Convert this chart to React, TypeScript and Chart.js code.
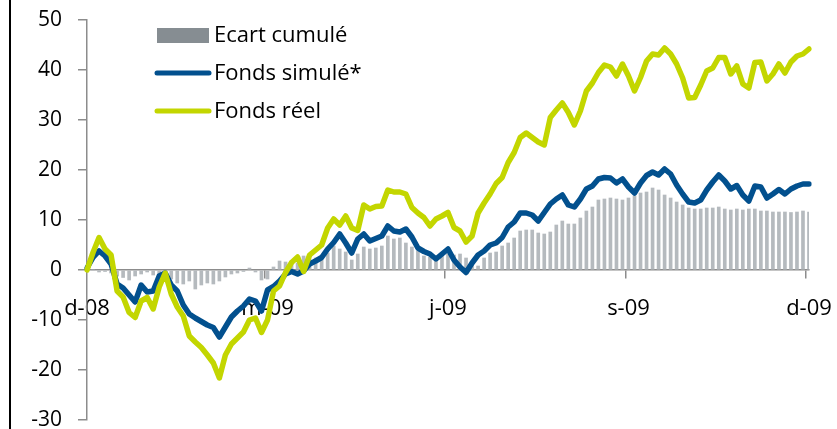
import React, { useEffect, useRef } from "react";
import { Chart, registerables } from "chart.js";

Chart.register(...registerables);

const TICK_LABELS = ["d-08", "m-09", "j-09", "s-09", "d-09"];
const TICK_STEP = 30;

const FONDS_REEL = [
  0, 3.5, 6.5, 4.2, 3.0, -4.2, -5.4, -8.5, -9.5, -6.2,
  -5.5, -7.8, -3.4, -0.6, -4.8, -7.4, -9.2, -13.2, -14.4, -15.5,
  -17, -18.6, -21.6, -17, -14.8, -13.6, -12.4, -10, -9.6, -12.5,
  -10, -4.2, -3.2, -0.5, 1.5, 2.6, -0.3, 3.0, 4.0, 5.0,
  8.4, 10.2, 9.0, 10.8, 8.4, 7.9, 13, 12.2, 12.7, 12.8,
  16, 15.6, 15.6, 15.2, 12.5, 11.4, 10.5, 8.8, 10.2, 10.8,
  11.5, 8.5, 7.8, 5.6, 6.8, 11.4, 13.4, 15.2, 17.3, 18.5,
  21.5, 23.5, 26.5, 27.4, 26.5, 25.6, 25, 30.5, 32, 33.4,
  31.5, 29, 31.8, 35.8, 37.4, 39.5, 41, 40.6, 38.8, 41.2,
  38.8, 35.8, 38.5, 41.8, 43.2, 43, 44.4, 43.2, 41.2, 38.4,
  34.4, 34.5, 37, 39.8, 40.4, 42.5, 42.5, 39.2, 40.8, 37.2,
  36.4, 41.5, 41.6, 37.8, 39.2, 41.2, 39.4, 41.6, 42.8, 43.2,
  44.2,
];

const FONDS_SIMULE = [
  0.4, 2.5, 3.8, 2.8, 1.2, -2.8, -3.6, -5, -6.4, -3,
  -4.4, -4.2, -1.2, -0.6, -3, -4.2, -7, -8.8, -9.6, -10.3,
  -11, -11.5, -13.4, -11.4, -9.4, -8.2, -7.2, -5.8, -6.2, -8.2,
  -4, -3.3, -2.2, -0.8, -0.3, -0.8, -0.2, 1.2, 1.8, 2.5,
  4.2, 5.5, 7.2, 5.4, 3.4, 6.2, 7.2, 5.8, 6.3, 6.8,
  8.8, 7.8, 7.6, 8.2, 6.6, 4.4, 3.7, 3.2, 2.2, 3.2,
  4.2, 2, 0.6, -0.5, 1.4, 3, 3.8, 5, 5.4, 6.5,
  8.6, 9.6, 11.4, 11.4, 11, 9.8, 11.5, 13.2, 14.2, 15,
  13, 12.6, 14.2, 16.2, 16.8, 18.2, 18.5, 18.4, 17.4, 18.2,
  16.6, 15.4, 17.4, 18.9, 19.6, 19, 20.2, 19.2, 17, 15.2,
  13.6, 13.4, 14, 16, 17.6, 19, 17.8, 16.2, 16.9, 15,
  13.8, 16.8, 16.6, 14.4, 15.2, 16.1, 15.2, 16.2, 16.8, 17.2,
  17.2,
];

const ECART_CUMULE = [
  0, 0, -0.4, -0.3, -0.6, -1.2, -1.5, -2, -1.2, -0.8,
  -0.4, -1, -0.8, -0.4, -1.8, -2.6, -2.8, -2.2, -3.8, -3,
  -2.6, -2.8, -2.2, -1.4, -0.8, -0.6, -0.3, 0.4, -0.4, -2,
  -1.8, 0.6, 1.8, 1.6, 1.8, 1.4, 2.8, 2.2, 2.4, 2.0,
  3.4, 4.8, 4.2, 3.6, 2, 3.2, 4.6, 4.2, 4.4, 4.8,
  6.8, 6.2, 6.4, 5.4, 4.6, 3.8, 2.8, 2.6, 2.8, 3.0,
  3.2, 3.0, 3.2, 2.4, 1.6, 0.8, 2.4, 3.4, 3.6, 4.8,
  5.4, 6.4, 7.8, 8, 8, 7.4, 7.2, 7.6, 9, 9.8,
  9.2, 9.2, 10.4, 11.8, 12.6, 14, 14.2, 14.4, 14.2, 14,
  14.4, 14.8, 15.4, 15.6, 16.4, 16, 15, 14.4, 13.6, 13,
  12.4, 12.2, 12.2, 12.4, 12.4, 12.6, 12.2, 12, 12.2, 12,
  12.2, 12.2, 11.8, 11.8, 11.6, 11.6, 11.6, 11.5, 11.6, 11.8,
  11.6,
];

const CATEGORIES = FONDS_REEL.map((_, i) =>
  i % TICK_STEP === 0 ? TICK_LABELS[i / TICK_STEP] ?? "" : ""
);

const BLUE = "#02508e";
const GREEN = "#c3d600";
const BAR_GREY = "#b5babe";
const LEGEND_GREY = "#868d92";
const AXIS_GREY = "#8c8c8c";
const FONT = "'Open Sans', sans-serif";

const frameAndLegend = {
  id: "frameAndLegend",
  afterDraw(chart: any) {
    const ctx = chart.ctx;
    ctx.save();
    ctx.fillStyle = "#000";
    ctx.fillRect(9, 0, 2, chart.height);
    const ds = chart.data.datasets;
    const x0 = 157;
    const x1 = 209;
    const rows = [35, 73, 111];
    ctx.font = `22px ${FONT}`;
    ctx.textBaseline = "middle";
    ctx.textAlign = "left";
    ds.forEach((d: any, i: number) => {
      const y = rows[i];
      if (d.type === "bar") {
        ctx.fillStyle = LEGEND_GREY;
        ctx.fillRect(x0, y - 7, x1 - x0, 15);
      } else {
        ctx.strokeStyle = d.borderColor;
        ctx.lineWidth = 5;
        ctx.lineCap = "round";
        ctx.beginPath();
        ctx.moveTo(x0, y);
        ctx.lineTo(x1, y);
        ctx.stroke();
      }
      ctx.fillStyle = "#000";
      ctx.fillText(d.label, 214, y + 1);
    });
    ctx.restore();
  },
};

export default function App() {
  const ref = useRef<HTMLCanvasElement | null>(null);

  useEffect(() => {
    if (!ref.current) return;
    const chart = new Chart(ref.current, {
      type: "bar",
      data: {
        labels: CATEGORIES,
        datasets: [
          {
            type: "bar",
            label: "Ecart cumulé",
            data: ECART_CUMULE,
            backgroundColor: BAR_GREY,
            barThickness: 3,
            order: 3,
          } as any,
          {
            type: "line",
            label: "Fonds simulé*",
            data: FONDS_SIMULE,
            borderColor: BLUE,
            borderWidth: 5.5,
            pointRadius: 0,
            borderJoinStyle: "round",
            borderCapStyle: "round",
            tension: 0,
            order: 2,
          },
          {
            type: "line",
            label: "Fonds réel",
            data: FONDS_REEL,
            borderColor: GREEN,
            borderWidth: 5.5,
            pointRadius: 0,
            borderJoinStyle: "round",
            borderCapStyle: "round",
            tension: 0,
            order: 1,
          },
        ],
      },
      options: {
        animation: false,
        responsive: false,
        devicePixelRatio: 1,
        layout: { padding: { left: 0, right: 28, top: 20, bottom: 9 } },
        plugins: {
          legend: { display: false },
          tooltip: { enabled: false },
        },
        scales: {
          x: {
            type: "category",
            position: { y: 0 } as any,
            offset: false,
            grid: {
              drawOnChartArea: false,
              tickLength: 8,
              tickColor: (c: any) =>
                CATEGORIES[c.index] ? AXIS_GREY : "rgba(0,0,0,0)",
              lineWidth: 1.5,
            },
            border: { color: AXIS_GREY, width: 1.5 },
            ticks: {
              autoSkip: false,
              maxRotation: 0,
              padding: 18,
              color: "#000",
              font: { family: FONT, size: 22 },
              callback: (_v: any, i: number) => CATEGORIES[i],
            },
            afterFit: (s: any) => {
              s.height = 0;
              s.paddingTop = 0;
              s.paddingBottom = 0;
              s.paddingLeft = 0;
              s.paddingRight = 0;
            },
          },
          y: {
            min: -30,
            max: 50,
            ticks: {
              stepSize: 10,
              padding: 16,
              color: "#000",
              font: { family: FONT, size: 21 },
            },
            grid: {
              drawOnChartArea: false,
              tickLength: 9,
              color: AXIS_GREY,
              lineWidth: 1.5,
            },
            border: { color: AXIS_GREY, width: 1.5 },
            afterFit: (s: any) => {
              s.width = 87;
              s.paddingTop = 0;
              s.paddingBottom = 0;
            },
          },
        },
      },
      plugins: [frameAndLegend],
    });
    return () => chart.destroy();
  }, []);

  return (
    <div style={{ position: "fixed", left: 0, top: 0, width: 837, height: 429, background: "#fff" }}>
      <canvas ref={ref} width={837} height={429} style={{ display: "block" }} />
    </div>
  );
}
